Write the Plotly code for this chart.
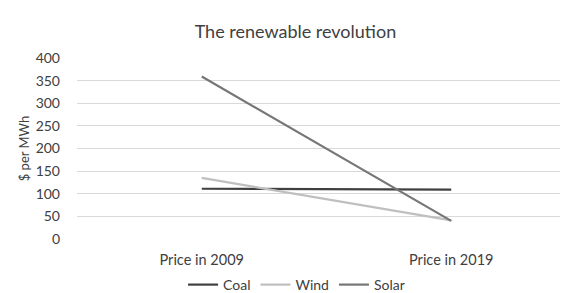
import plotly.graph_objects as go

categories = ["Price in 2009", "Price in 2019"]
coal = [111, 109]
wind = [135, 41]
solar = [359, 40]
y_ticks = [0, 50, 100, 150, 200, 250, 300, 350, 400]

fig = go.Figure()
fig.add_trace(go.Scatter(x=categories, y=coal, name="Coal", mode="lines",
                         line=dict(color="#404040", width=2.2)))
fig.add_trace(go.Scatter(x=categories, y=wind, name="Wind", mode="lines",
                         line=dict(color="#bfbfbf", width=2.2)))
fig.add_trace(go.Scatter(x=categories, y=solar, name="Solar", mode="lines",
                         line=dict(color="#767676", width=2.2)))

font = "Lato, 'Open Sans', sans-serif"
fig.update_layout(
    width=568, height=293,
    margin=dict(l=69, r=0, t=50, b=57),
    paper_bgcolor="white", plot_bgcolor="white",
    font=dict(family=font, size=14, color="#404040"),
    title=dict(text="The renewable revolution", xref="container", x=0.506,
               xanchor="center", yref="container", y=0.92, yanchor="middle",
               font=dict(size=18, color="#404040")),
    xaxis=dict(type="category", range=[-0.5, 1.5], showgrid=False,
               showline=False, ticks="", ticklen=0, ticklabelstandoff=10,
               tickfont=dict(size=14.5)),
    yaxis=dict(range=[0, 400], tickvals=y_ticks, showgrid=True,
               gridcolor="#d9d9d9", gridwidth=1, zeroline=False,
               showline=False, ticks="", ticklabelstandoff=16,
               tickfont=dict(size=14),
               title=dict(text="$ per MWh", standoff=3, font=dict(size=13))),
    legend=dict(orientation="h", x=0.44, xanchor="center",
                y=-0.255, yanchor="middle",
                font=dict(size=14), itemwidth=30, tracegroupgap=0),
    showlegend=True,
)
fig.write_html("out.html")
